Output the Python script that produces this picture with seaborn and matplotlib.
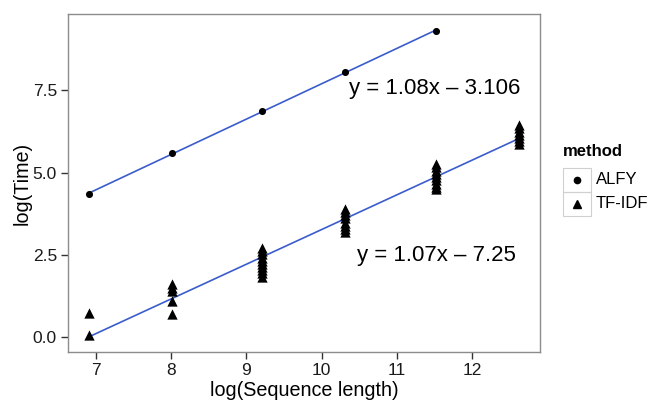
import numpy as np
import pandas as pd
import matplotlib
matplotlib.use("Agg")
import matplotlib.pyplot as plt
from matplotlib.lines import Line2D
from matplotlib.patches import Rectangle
import seaborn as sns

# valores (log de longitud y log de tiempo)
alfy_x = [6.908, 8.006, 9.210, 10.309, 11.513]
alfy_y = [4.35, 5.58, 6.86, 8.05, 9.31]

tfidf_x = ([6.908] * 2 + [8.006] * 5 + [9.210] * 10 +
           [10.309] * 8 + [11.513] * 9 + [12.612] * 7)
tfidf_y = [0.05, 0.72,
           0.70, 1.10, 1.39, 1.50, 1.62,
           1.82, 1.93, 2.03, 2.12, 2.23, 2.32, 2.41, 2.51, 2.61, 2.72,
           3.20, 3.28, 3.37, 3.48, 3.62, 3.71, 3.80, 3.88,
           4.50, 4.57, 4.66, 4.76, 4.85, 4.95, 5.05, 5.16, 5.27,
           5.88, 5.95, 6.04, 6.14, 6.24, 6.34, 6.45]

eq_labels = ["y = 1.08x \u2013 3.106", "y = 1.07x \u2013 7.25"]
x_ticks = [7, 8, 9, 10, 11, 12]
y_ticks = [0.0, 2.5, 5.0, 7.5]

df = pd.concat([
    pd.DataFrame({"x": alfy_x, "y": alfy_y, "method": "ALFY"}),
    pd.DataFrame({"x": tfidf_x, "y": tfidf_y, "method": "TF-IDF"}),
])

sns.set_theme(style="white")
plt.rcParams["font.family"] = ["Liberation Sans", "DejaVu Sans"]
plt.rcParams["text.color"] = "black"

fig = plt.figure(figsize=(6.54, 4.01), dpi=100)
ax = fig.add_axes([0.104, 0.122, 0.722, 0.843])

line_col = "#3a5ccc"
sns.regplot(data=df[df.method == "ALFY"], x="x", y="y", ci=None, ax=ax,
            marker="o", color="black",
            scatter_kws={"s": 26, "linewidths": 0, "alpha": 1, "zorder": 3},
            line_kws={"color": line_col, "lw": 1.2, "zorder": 2})
sns.regplot(data=df[df.method == "TF-IDF"], x="x", y="y", ci=None, ax=ax,
            marker="^", color="black",
            scatter_kws={"s": 55, "linewidths": 0, "alpha": 1, "zorder": 3},
            line_kws={"color": line_col, "lw": 1.2, "zorder": 2})

ax.text(11.50, 7.57, eq_labels[0], ha="center", va="center", fontsize=16,
        color="black")
ax.text(11.52, 2.49, eq_labels[1], ha="center", va="center", fontsize=16,
        color="black")

ax.set_xlim(6.63, 12.90)
ax.set_ylim(-0.46, 9.82)
ax.set_xticks(x_ticks)
ax.set_yticks(y_ticks)
ax.set_yticklabels([f"{v:.1f}" for v in y_ticks])
ax.set_xlabel("log(Sequence length)", fontsize=14.2, labelpad=2, color="black")
ax.set_ylabel("log(Time)", fontsize=14.2, labelpad=1, color="black")
ax.tick_params(axis="both", length=5, width=1, color="#333333",
               labelsize=12.5, labelcolor="#1a1a1a", direction="out",
               bottom=True, left=True, pad=3)
for s in ax.spines.values():
    s.set_color("#8c8c8c")
    s.set_linewidth(1)

# leyenda manual estilo ggplot
fig.text(563 / 654, 1 - 151 / 401, "method", fontsize=12, fontweight="bold",
         ha="left", va="center")
for i, (lab, mk, ms) in enumerate([("ALFY", "o", 4.5), ("TF-IDF", "^", 6)]):
    cy = 1 - (180 + 24 * i) / 401
    fig.add_artist(Rectangle((563 / 654, cy - 12 / 401), 28 / 654, 24 / 401,
                             transform=fig.transFigure, fill=False,
                             edgecolor="#d0d0d0", lw=0.8))
    fig.add_artist(Line2D([577 / 654], [cy], marker=mk, markersize=ms,
                          color="black", lw=0, transform=fig.transFigure))
    fig.text(596 / 654, cy, lab, fontsize=12, ha="left", va="center")

plt.savefig("out.png", dpi=100)
plt.close()
